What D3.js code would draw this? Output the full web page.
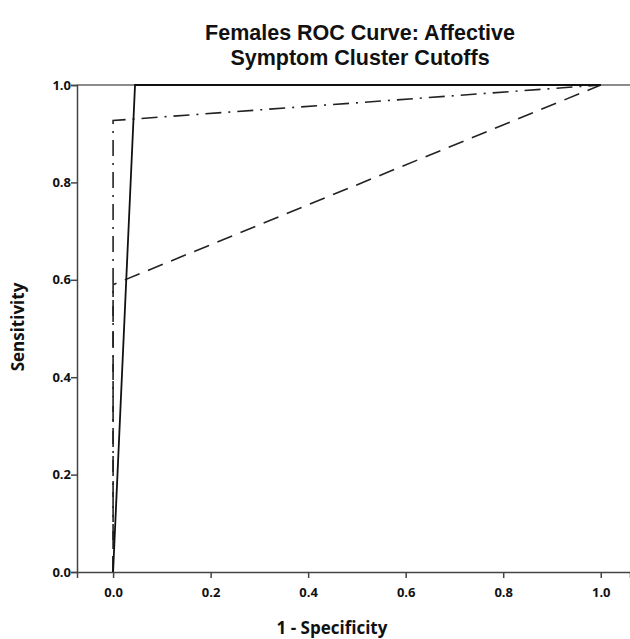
<!DOCTYPE html>
<html>
<head>
<meta charset="utf-8">
<script src="https://cdn.jsdelivr.net/npm/d3@7"></script>
<style>
body{margin:0;background:#fff;}
text{font-family:"Open Sans","DejaVu Sans",sans-serif;font-weight:bold;fill:#111;}
</style>
</head>
<body>
<div id="chart"></div>
<script>
// ROC curves
var solidX = [0, 0.045, 1];
var solidY = [0, 1, 1];
var dashDotX = [0, 0, 1];
var dashDotY = [0, 0.927, 1];
var dashedX = [0, 0, 1];
var dashedY = [0, 0.59, 1];
var tickVals = [0, 0.2, 0.4, 0.6, 0.8, 1.0];

var width = 630, height = 639;
var svg = d3.select("#chart").append("svg")
    .attr("width", width)
    .attr("height", height);

var x = d3.scaleLinear().domain([-0.074, 1.06]).range([77, 630]);
var y = d3.scaleLinear().domain([0, 1]).range([572, 85]);

function pts(xs, ys){
    return xs.map(function(d,i){ return [d, ys[i]]; });
}
var line = d3.line()
    .x(function(d){ return x(d[0]); })
    .y(function(d){ return y(d[1]); });

// frame top line
svg.append("line")
    .attr("x1", x.range()[0]).attr("x2", x.range()[1])
    .attr("y1", y(1)).attr("y2", y(1))
    .style("stroke", "#666").style("stroke-width", 1.5);

var xAxis = svg.append("g")
    .attr("transform", "translate(0," + y(0) + ")")
    .call(d3.axisBottom(x).tickValues(tickVals).tickFormat(d3.format(".1f")).tickSizeOuter(0).tickSize(6));
var yAxis = svg.append("g")
    .attr("transform", "translate(" + x.range()[0] + ",0)")
    .call(d3.axisLeft(y).tickValues(tickVals).tickFormat(d3.format(".1f")).tickSizeOuter(0).tickSize(6));

[xAxis, yAxis].forEach(function(a){
    a.select(".domain").style("stroke", "#444").style("stroke-width", 1.5);
    a.selectAll(".tick line").style("stroke", "#444").style("stroke-width", 1.5);
    a.selectAll(".tick text").style("font-size", "13px").style("font-family", "'Open Sans',sans-serif").style("font-weight", "bold").style("fill", "#111");
});
xAxis.selectAll(".tick text").attr("dy", "1.25em");
yAxis.selectAll(".tick text").attr("x", -6);

svg.append("path")
    .datum(pts(dashedX, dashedY))
    .attr("d", line)
    .style("fill", "none").style("stroke", "#222").style("stroke-width", 1.6)
    .style("stroke-dasharray", "16,9");

svg.append("path")
    .datum(pts(dashDotX, dashDotY))
    .attr("d", line)
    .style("fill", "none").style("stroke", "#222").style("stroke-width", 1.6)
    .style("stroke-dasharray", "16,7,2,7");

svg.append("path")
    .datum(pts(solidX, solidY))
    .attr("d", line)
    .style("fill", "none").style("stroke", "#111").style("stroke-width", 1.8);

// title
svg.append("text").attr("x", 360).attr("y", 40).attr("text-anchor", "middle")
    .style("font-family", "'Liberation Sans',Arial,sans-serif")
    .style("font-size", "21.5px").text("Females ROC Curve: Affective");
svg.append("text").attr("x", 360).attr("y", 65).attr("text-anchor", "middle")
    .style("font-family", "'Liberation Sans',Arial,sans-serif")
    .style("font-size", "21.5px").text("Symptom Cluster Cutoffs");

svg.append("text").attr("x", 332).attr("y", 634).attr("text-anchor", "middle")
    .style("font-size", "17px").text("1 - Specificity");
svg.append("text").attr("transform", "translate(24,327) rotate(-90)").attr("text-anchor", "middle")
    .style("font-size", "17px").text("Sensitivity");
</script>
</body>
</html>
